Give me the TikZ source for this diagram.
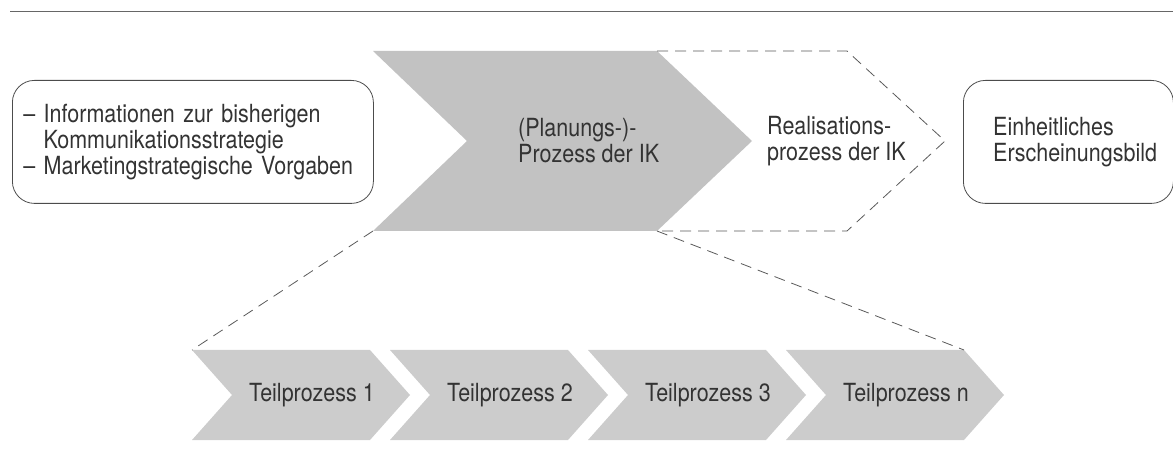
\documentclass[tikz,border=0pt]{standalone}
\usepackage{fontspec}
\setmainfont{TeX Gyre Heros}[FakeStretch=0.86]
\usetikzlibrary{positioning}

\tikzset{
  box/.style={draw=black!70, line width=0.8pt, rounded corners=22pt},
  bigfill/.style={fill=black!24},
  subfill/.style={fill=black!20},
  guide/.style={draw=black!65, line width=0.8pt, dash pattern=on 11pt off 7pt},
  txt/.style={text=black!80, font=\fontsize{25}{26}\selectfont, align=left, inner sep=0pt},
}

\begin{document}
\begin{tikzpicture}[x=1pt,y=-1pt]
\useasboundingbox (0,0) rectangle (1173,470);
\draw[black!60, line width=0.8pt] (10,11) -- (1173,11);

%% Input and result
\node[box, txt, anchor=north west, minimum width=361, minimum height=123,
  inner xsep=11pt, text width=339pt] (input) at (12,80)
  {-- Informationen zur bisherigen\\\hphantom{-- }Kommunikationsstrategie\\-- Marketingstrategische Vorgaben};
\node[box, anchor=north west, minimum width=210, minimum height=123] (result) at (963,80) {};
\node[txt, anchor=west, right=30pt of result.west] (resulttext) {Einheitliches\\Erscheinungsbild};

%% Planning and realisation
\fill[bigfill] (373,51) coordinate (plan-nw) -- (657,51) coordinate (plan-ne)
  -- (752,141) -- (657,231) coordinate (plan-se) -- (373,231) coordinate (plan-sw)
  -- (467,141) -- cycle;
\node[txt, anchor=west] (plan) at (518,141) {(Planungs-)-\\Prozess der IK};
\draw[guide] (plan-ne) -- (847,51) coordinate (real-ne) -- (945,141) coordinate (real-tip)
  -- (847,231) coordinate (real-se) -- (plan-se);
\node[txt, anchor=west] (real) at (767,141) {Realisations-\\prozess der IK};

%% Sub processes
\foreach \k/\lab in {0/1,1/2,2/3,3/n} {
  \pgfmathsetmacro\l{192+198*\k}
  \fill[subfill] (\l,350) coordinate (sub\lab-nw) -- ++(178,0) coordinate (sub\lab-ne)
    -- ++(40,45) -- ++(-40,45) -- ++(-178,0) -- ++(40,-45) -- cycle;
  \node[txt] (sub\lab) at (\l+120,395) {Teilprozess \lab};
}
\draw[guide] (plan-sw) -- (sub1-nw);
\draw[guide] (plan-se) -- (subn-ne);

\end{tikzpicture}
\end{document}
